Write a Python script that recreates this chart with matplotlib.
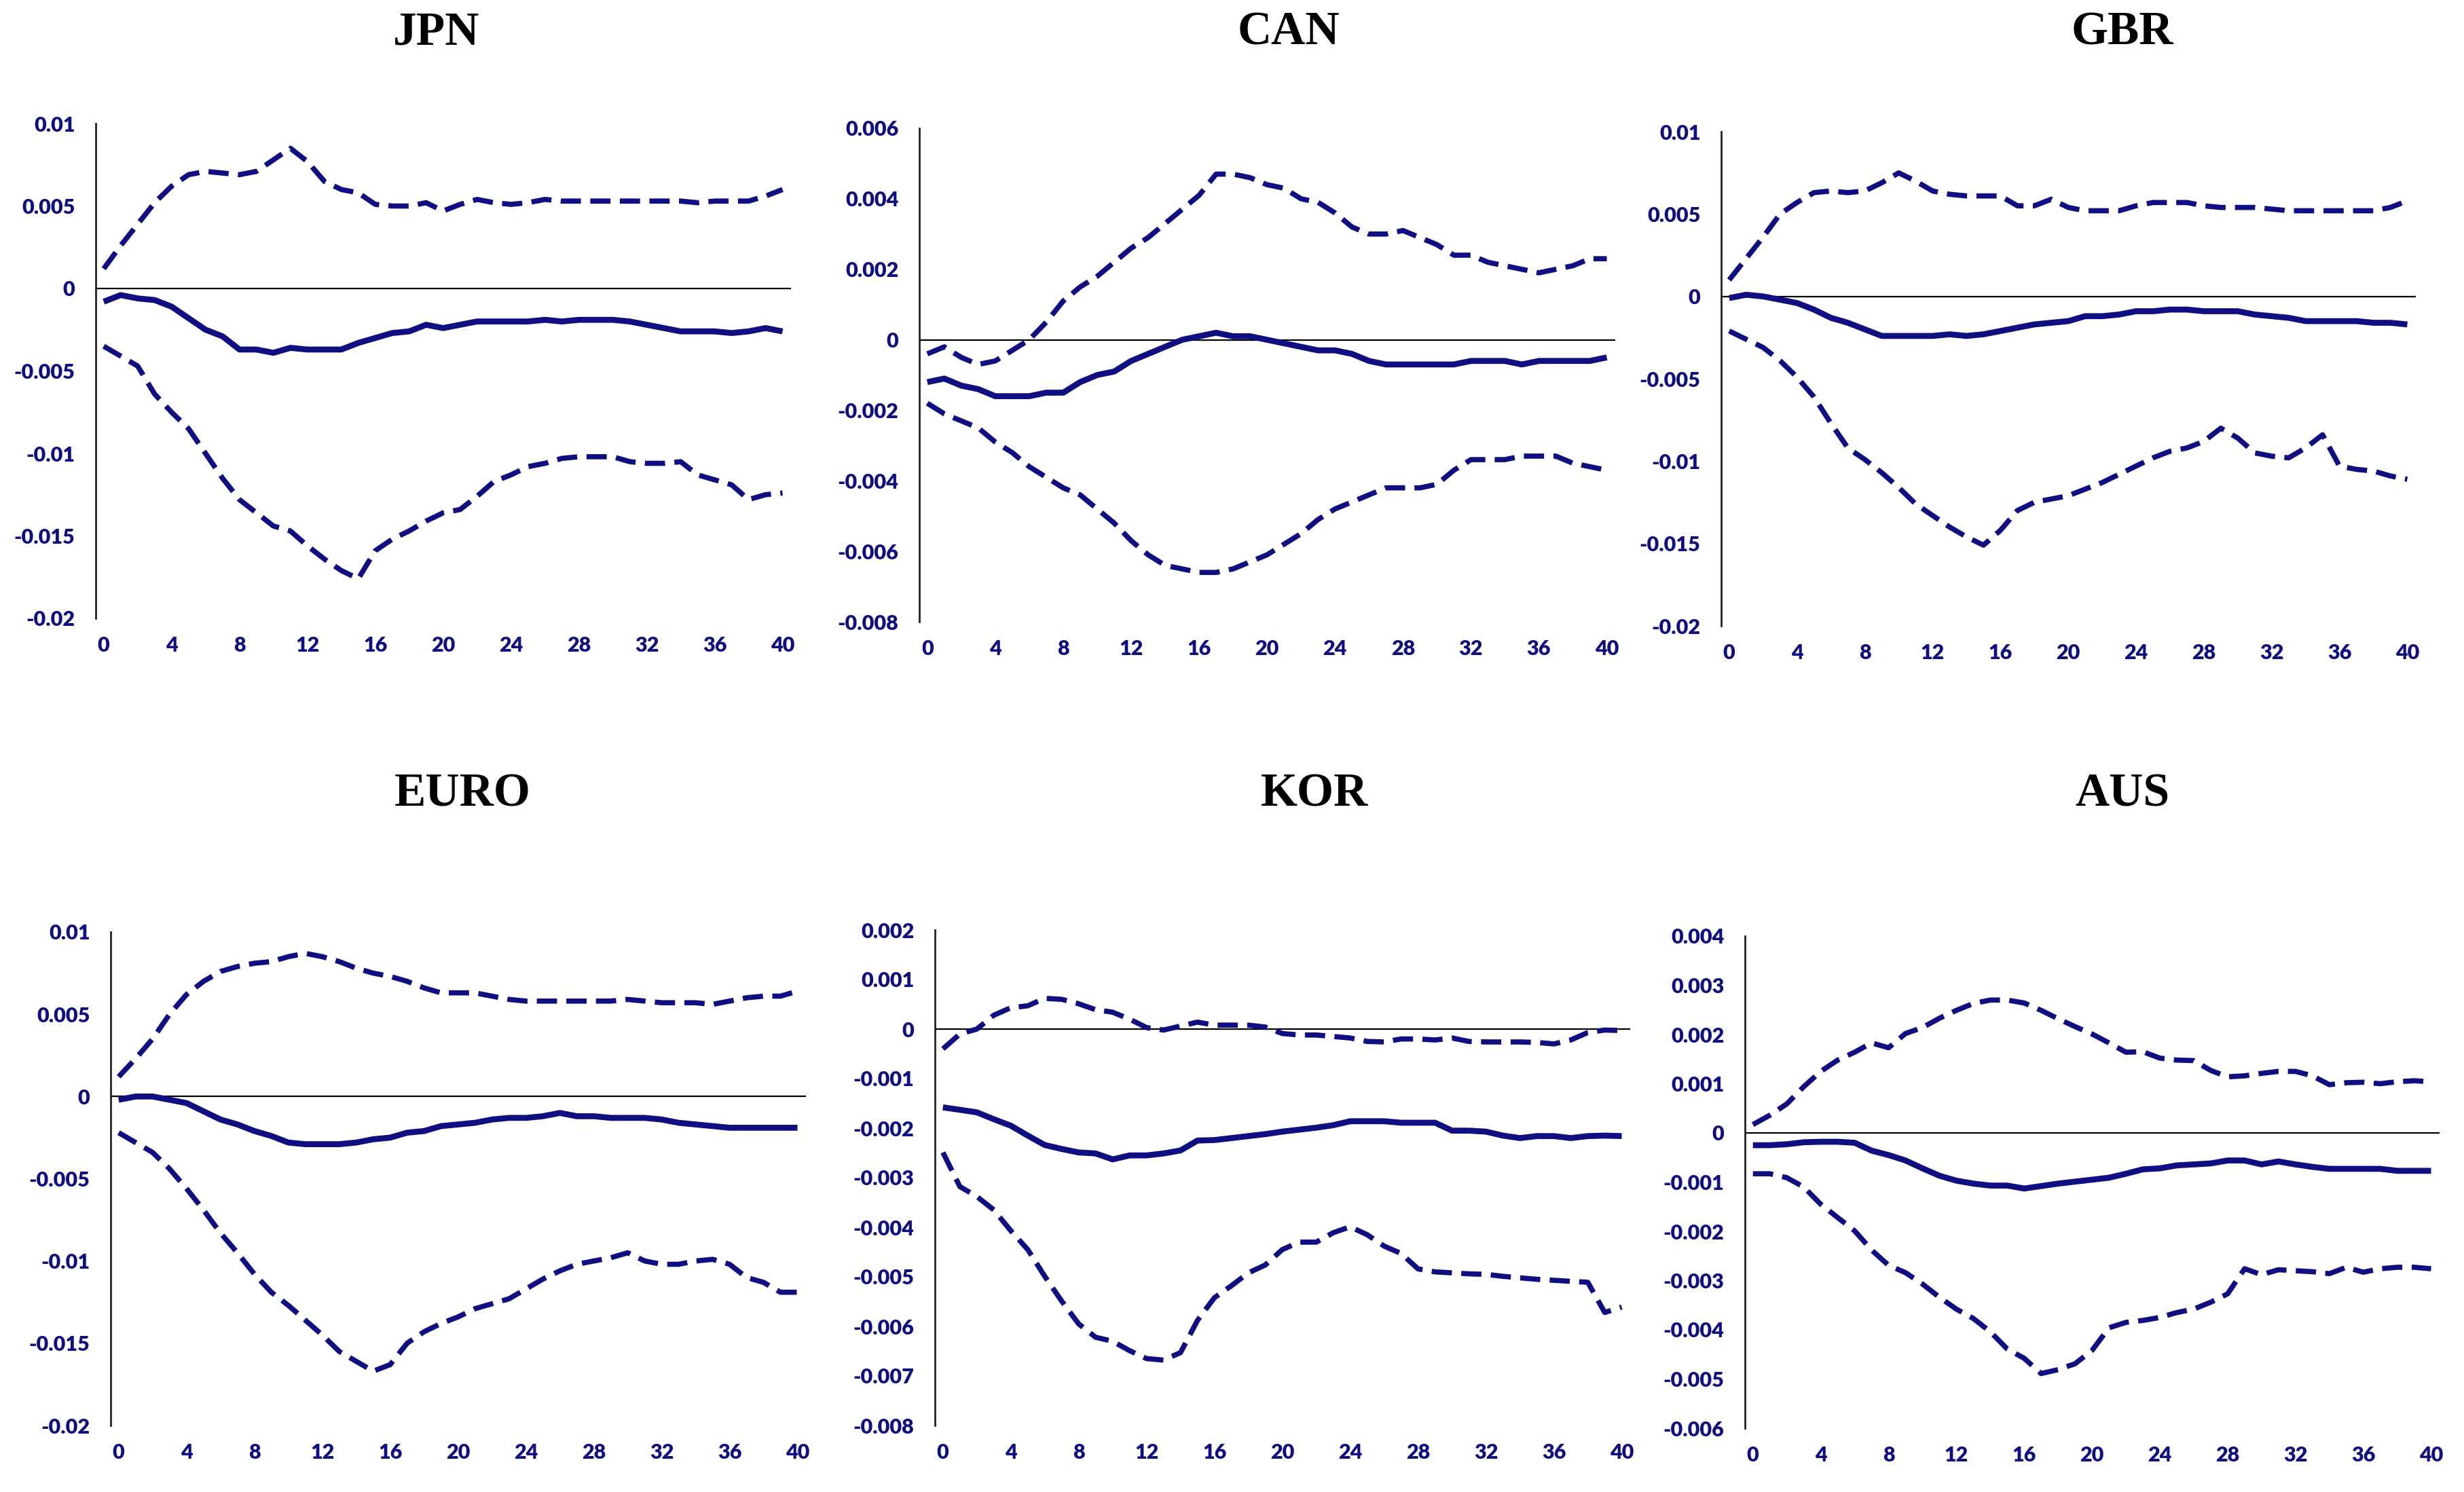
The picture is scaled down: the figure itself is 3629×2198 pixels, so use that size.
import matplotlib
matplotlib.use("Agg")
import matplotlib.pyplot as plt

# horizon (quarters)
horizon = list(range(41))

# JPN
jpn_hi = [0.0012, 0.0026, 0.0039, 0.0052, 0.0062, 0.0069, 0.0071, 0.0070, 0.0069, 0.0071,
          0.0078, 0.0085, 0.0077, 0.0065, 0.0060, 0.0058, 0.0051, 0.0050, 0.0050, 0.0052,
          0.0047, 0.0051, 0.0054, 0.0052, 0.0051, 0.0052, 0.0054, 0.0053, 0.0053, 0.0053,
          0.0053, 0.0053, 0.0053, 0.0053, 0.0053, 0.0052, 0.0053, 0.0053, 0.0053, 0.0056, 0.0060]
jpn_irf = [-0.0008, -0.0004, -0.0006, -0.0007, -0.0011, -0.0018, -0.0025, -0.0029, -0.0037, -0.0037,
           -0.0039, -0.0036, -0.0037, -0.0037, -0.0037, -0.0033, -0.0030, -0.0027, -0.0026, -0.0022,
           -0.0024, -0.0022, -0.0020, -0.0020, -0.0020, -0.0020, -0.0019, -0.0020, -0.0019, -0.0019,
           -0.0019, -0.0020, -0.0022, -0.0024, -0.0026, -0.0026, -0.0026, -0.0027, -0.0026, -0.0024, -0.0026]
jpn_lo = [-0.0035, -0.0041, -0.0047, -0.0064, -0.0075, -0.0085, -0.0100, -0.0115, -0.0128, -0.0136,
          -0.0144, -0.0147, -0.0156, -0.0164, -0.0171, -0.0176, -0.0159, -0.0152, -0.0147, -0.0141,
          -0.0136, -0.0134, -0.0126, -0.0117, -0.0113, -0.0108, -0.0106, -0.0103, -0.0102, -0.0102,
          -0.0102, -0.0105, -0.0106, -0.0106, -0.0105, -0.0113, -0.0116, -0.0119, -0.0128, -0.0125, -0.0124]

# CAN
can_hi = [-0.0004, -0.0002, -0.0005, -0.0007, -0.0006, -0.0003, 0.0000, 0.0005, 0.0011, 0.0015,
          0.0018, 0.0022, 0.0026, 0.0029, 0.0033, 0.0037, 0.0041, 0.0047, 0.0047, 0.0046,
          0.0044, 0.0043, 0.0040, 0.0039, 0.0036, 0.0032, 0.0030, 0.0030, 0.0031, 0.0029,
          0.0027, 0.0024, 0.0024, 0.0022, 0.0021, 0.0020, 0.0019, 0.0020, 0.0021, 0.0023, 0.0023]
can_irf = [-0.0012, -0.0011, -0.0013, -0.0014, -0.0016, -0.0016, -0.0016, -0.0015, -0.0015, -0.0012,
           -0.0010, -0.0009, -0.0006, -0.0004, -0.0002, 0.0000, 0.0001, 0.0002, 0.0001, 0.0001,
           0.0000, -0.0001, -0.0002, -0.0003, -0.0003, -0.0004, -0.0006, -0.0007, -0.0007, -0.0007,
           -0.0007, -0.0007, -0.0006, -0.0006, -0.0006, -0.0007, -0.0006, -0.0006, -0.0006, -0.0006, -0.0005]
can_lo = [-0.0018, -0.0021, -0.0023, -0.0025, -0.0029, -0.0032, -0.0036, -0.0039, -0.0042, -0.0044,
          -0.0048, -0.0052, -0.0057, -0.0061, -0.0064, -0.0065, -0.0066, -0.0066, -0.0065, -0.0063,
          -0.0061, -0.0058, -0.0055, -0.0051, -0.0048, -0.0046, -0.0044, -0.0042, -0.0042, -0.0042,
          -0.0041, -0.0037, -0.0034, -0.0034, -0.0034, -0.0033, -0.0033, -0.0033, -0.0035, -0.0036, -0.0037]

# GBR
gbr_hi = [0.0010, 0.0023, 0.0036, 0.0050, 0.0057, 0.0063, 0.0064, 0.0063, 0.0064, 0.0069,
          0.0075, 0.0070, 0.0064, 0.0062, 0.0061, 0.0061, 0.0061, 0.0055, 0.0055, 0.0059,
          0.0054, 0.0052, 0.0052, 0.0052, 0.0055, 0.0057, 0.0057, 0.0057, 0.0055, 0.0054,
          0.0054, 0.0054, 0.0053, 0.0052, 0.0052, 0.0052, 0.0052, 0.0052, 0.0052, 0.0054, 0.0058]
gbr_irf = [-0.0001, 0.0001, 0.0000, -0.0002, -0.0004, -0.0008, -0.0013, -0.0016, -0.0020, -0.0024,
           -0.0024, -0.0024, -0.0024, -0.0023, -0.0024, -0.0023, -0.0021, -0.0019, -0.0017, -0.0016,
           -0.0015, -0.0012, -0.0012, -0.0011, -0.0009, -0.0009, -0.0008, -0.0008, -0.0009, -0.0009,
           -0.0009, -0.0011, -0.0012, -0.0013, -0.0015, -0.0015, -0.0015, -0.0015, -0.0016, -0.0016, -0.0017]
gbr_lo = [-0.0021, -0.0026, -0.0031, -0.0039, -0.0049, -0.0061, -0.0077, -0.0092, -0.0099, -0.0107,
          -0.0116, -0.0126, -0.0133, -0.0140, -0.0146, -0.0151, -0.0142, -0.0130, -0.0125, -0.0123,
          -0.0121, -0.0117, -0.0113, -0.0108, -0.0103, -0.0098, -0.0094, -0.0092, -0.0088, -0.0080,
          -0.0086, -0.0095, -0.0097, -0.0098, -0.0092, -0.0084, -0.0103, -0.0105, -0.0106, -0.0109, -0.0111]

# EURO
euro_hi = [0.0012, 0.0023, 0.0035, 0.0050, 0.0062, 0.0070, 0.0076, 0.0079, 0.0081, 0.0082,
           0.0085, 0.0087, 0.0085, 0.0082, 0.0078, 0.0075, 0.0073, 0.0070, 0.0066, 0.0063,
           0.0063, 0.0063, 0.0061, 0.0059, 0.0058, 0.0058, 0.0058, 0.0058, 0.0058, 0.0058,
           0.0059, 0.0058, 0.0057, 0.0057, 0.0057, 0.0056, 0.0058, 0.0060, 0.0061, 0.0061, 0.0064]
euro_irf = [-0.0002, 0.0000, 0.0000, -0.0002, -0.0004, -0.0009, -0.0014, -0.0017, -0.0021, -0.0024,
            -0.0028, -0.0029, -0.0029, -0.0029, -0.0028, -0.0026, -0.0025, -0.0022, -0.0021, -0.0018,
            -0.0017, -0.0016, -0.0014, -0.0013, -0.0013, -0.0012, -0.0010, -0.0012, -0.0012, -0.0013,
            -0.0013, -0.0013, -0.0014, -0.0016, -0.0017, -0.0018, -0.0019, -0.0019, -0.0019, -0.0019, -0.0019]
euro_lo = [-0.0022, -0.0028, -0.0034, -0.0044, -0.0056, -0.0069, -0.0083, -0.0095, -0.0108, -0.0119,
           -0.0127, -0.0136, -0.0145, -0.0155, -0.0161, -0.0167, -0.0163, -0.0150, -0.0143, -0.0138,
           -0.0134, -0.0129, -0.0126, -0.0123, -0.0117, -0.0111, -0.0106, -0.0102, -0.0100, -0.0098,
           -0.0095, -0.0100, -0.0102, -0.0102, -0.0100, -0.0099, -0.0102, -0.0110, -0.0113, -0.0119, -0.0119]

# KOR
kor_hi = [-0.00040, -0.00010, 0.00000, 0.00028, 0.00043, 0.00047, 0.00062, 0.00060, 0.00051, 0.00039,
          0.00034, 0.00020, 0.00003, -0.00002, 0.00006, 0.00014, 0.00008, 0.00008, 0.00008, 0.00004,
          -0.00009, -0.00012, -0.00012, -0.00015, -0.00018, -0.00025, -0.00026, -0.00020, -0.00020, -0.00022,
          -0.00018, -0.00025, -0.00026, -0.00026, -0.00026, -0.00027, -0.00030, -0.00022, -0.00007, -0.00002, -0.00003]
kor_irf = [-0.00158, -0.00163, -0.00168, -0.00182, -0.00195, -0.00215, -0.00234, -0.00242, -0.00249, -0.00251,
           -0.00263, -0.00255, -0.00255, -0.00251, -0.00245, -0.00225, -0.00224, -0.00220, -0.00216, -0.00212,
           -0.00207, -0.00203, -0.00199, -0.00194, -0.00186, -0.00186, -0.00186, -0.00189, -0.00189, -0.00189,
           -0.00205, -0.00205, -0.00207, -0.00215, -0.00220, -0.00216, -0.00216, -0.00220, -0.00216, -0.00215, -0.00216]
kor_lo = [-0.00249, -0.00318, -0.00338, -0.00365, -0.00407, -0.00445, -0.00499, -0.00549, -0.00595, -0.00622,
          -0.00630, -0.00649, -0.00665, -0.00668, -0.00653, -0.00588, -0.00542, -0.00518, -0.00492, -0.00476,
          -0.00445, -0.00430, -0.00430, -0.00411, -0.00399, -0.00415, -0.00438, -0.00453, -0.00484, -0.00490,
          -0.00492, -0.00494, -0.00495, -0.00499, -0.00502, -0.00505, -0.00507, -0.00509, -0.00511, -0.00572, -0.00561]

# AUS
aus_hi = [0.00017, 0.00036, 0.00059, 0.00094, 0.00125, 0.00148, 0.00164, 0.00183, 0.00173, 0.00202,
          0.00214, 0.00233, 0.00249, 0.00263, 0.00270, 0.00270, 0.00264, 0.00249, 0.00232, 0.00216,
          0.00201, 0.00183, 0.00164, 0.00165, 0.00152, 0.00148, 0.00147, 0.00127, 0.00114, 0.00116,
          0.00121, 0.00125, 0.00125, 0.00116, 0.00098, 0.00102, 0.00103, 0.00100, 0.00104, 0.00106, 0.00104]
aus_irf = [-0.00025, -0.00025, -0.00023, -0.00019, -0.00018, -0.00018, -0.00020, -0.00036, -0.00045, -0.00056,
           -0.00072, -0.00087, -0.00097, -0.00103, -0.00107, -0.00107, -0.00113, -0.00108, -0.00103, -0.00099,
           -0.00095, -0.00091, -0.00083, -0.00074, -0.00072, -0.00066, -0.00064, -0.00062, -0.00056, -0.00056,
           -0.00064, -0.00058, -0.00064, -0.00069, -0.00073, -0.00073, -0.00073, -0.00073, -0.00077, -0.00077, -0.00077]
aus_lo = [-0.00083, -0.00083, -0.00091, -0.00110, -0.00145, -0.00172, -0.00199, -0.00238, -0.00269, -0.00284,
          -0.00307, -0.00334, -0.00358, -0.00377, -0.00404, -0.00439, -0.00458, -0.00489, -0.00481, -0.00469,
          -0.00442, -0.00396, -0.00385, -0.00381, -0.00375, -0.00365, -0.00358, -0.00344, -0.00327, -0.00276,
          -0.00288, -0.00278, -0.00280, -0.00282, -0.00286, -0.00273, -0.00283, -0.00276, -0.00273, -0.00273, -0.00276]

# y axis ranges and tick steps
panels = [
    ("JPN", jpn_lo, jpn_irf, jpn_hi, -0.02, 0.01, 0.005, ["-0.02", "-0.015", "-0.01", "-0.005", "0", "0.005", "0.01"]),
    ("CAN", can_lo, can_irf, can_hi, -0.008, 0.006, 0.002, ["-0.008", "-0.006", "-0.004", "-0.002", "0", "0.002", "0.004", "0.006"]),
    ("GBR", gbr_lo, gbr_irf, gbr_hi, -0.02, 0.01, 0.005, ["-0.02", "-0.015", "-0.01", "-0.005", "0", "0.005", "0.01"]),
    ("EURO", euro_lo, euro_irf, euro_hi, -0.02, 0.01, 0.005, ["-0.02", "-0.015", "-0.01", "-0.005", "0", "0.005", "0.01"]),
    ("KOR", kor_lo, kor_irf, kor_hi, -0.008, 0.002, 0.001,
     ["-0.008", "-0.007", "-0.006", "-0.005", "-0.004", "-0.003", "-0.002", "-0.001", "0", "0.001", "0.002"]),
    ("AUS", aus_lo, aus_irf, aus_hi, -0.006, 0.004, 0.001,
     ["-0.006", "-0.005", "-0.004", "-0.003", "-0.002", "-0.001", "0", "0.001", "0.002", "0.003", "0.004"]),
]

# layout in pixels: spine x, right end, top, bottom ; title centre
W, H = 3630, 2198
rects = [(141, 1165, 182, 911), (1354, 2379, 189, 916), (2535, 3558, 194, 922),
         (163, 1187, 1373, 2100), (1377, 2401, 1370, 2100), (2570, 3593, 1379, 2104)]
title_pos = [(643, 49), (1898, 49), (3126, 49), (681, 1170), (1936, 1170), (3126, 1170)]

navy = "#0f0f82"
fig = plt.figure(figsize=(W / 100, H / 100), dpi=100)

for (name, lo, irf, hi, ymin, ymax, step, ylabels), (l, r, t, b), (tx, ty) in zip(panels, rects, title_pos):
    ax = fig.add_axes([l / W, 1 - b / H, (r - l) / W, (b - t) / H])
    ax.plot(horizon, hi, color=navy, lw=5.5, linestyle=(0, (3.9, 1.8)), dash_capstyle="butt")
    ax.plot(horizon, lo, color=navy, lw=5.5, linestyle=(0, (3.9, 1.8)), dash_capstyle="butt")
    ax.plot(horizon, irf, color=navy, lw=6.3, solid_capstyle="butt")
    ax.axhline(0, color="black", lw=1.6, zorder=1)

    ax.set_xlim(-0.47, 40.5)
    ax.set_ylim(ymin, ymax)
    yt = [ymin + i * step for i in range(len(ylabels))]
    ax.set_yticks(yt)
    ax.set_yticklabels(ylabels)
    ax.set_xticks(range(0, 41, 4))
    ax.set_xticklabels([str(v) for v in range(0, 41, 4)])

    for s in ["top", "right", "bottom"]:
        ax.spines[s].set_visible(False)
    ax.spines["left"].set_linewidth(2.0)
    ax.spines["left"].set_color("#222222")
    ax.tick_params(length=0, labelsize=22, labelcolor=navy)
    ax.tick_params(axis="y", pad=22)
    ax.tick_params(axis="x", pad=19)
    for lab in ax.get_xticklabels() + ax.get_yticklabels():
        lab.set_fontfamily("Lato")
        lab.set_fontweight("heavy")

    fig.text(tx / W, 1 - ty / H, name, ha="center", va="center",
             fontsize=50, fontweight="bold", family="Liberation Serif", color="black")

fig.savefig("out.png", dpi=100)
